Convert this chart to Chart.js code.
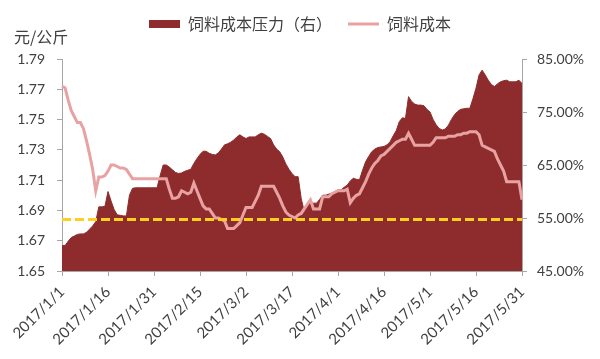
<!DOCTYPE html>
<html>
<head>
<meta charset="utf-8">
<script src="https://cdn.jsdelivr.net/npm/chart.js@4.4.0/dist/chart.umd.min.js"></script>
<style>
  body { margin: 0; background: #fff; }
</style>
</head>
<body>
<canvas id="myChart" width="600" height="359"></canvas>
<script>
// daily x categories, 2017/1/1 .. 2017/5/31
const labels = [];
for (let d = new Date(Date.UTC(2017, 0, 1)); d <= new Date(Date.UTC(2017, 4, 31)); d.setUTCDate(d.getUTCDate() + 1)) {
    labels.push(d.getUTCFullYear() + '/' + (d.getUTCMonth() + 1) + '/' + d.getUTCDate());
}
const tickEvery = 15;

// 饲料成本压力（右）, %
const pressure = [
    49.8, 49.8, 50.6, 51.3, 51.6, 51.9, 52.0, 52.0, 52.3, 52.9,
    53.5, 54.3, 57.1, 57.1, 57.2, 60.0, 58.2, 56.6, 55.6, 55.5,
    55.4, 55.4, 59.3, 60.6, 60.7, 60.7, 60.7, 60.7, 60.7, 60.7,
    60.7, 60.7, 63.0, 65.0, 65.0, 64.6, 64.1, 63.6, 63.4, 63.5,
    63.8, 64.0, 64.2, 65.3, 66.2, 67.0, 67.6, 67.6, 67.2, 67.0,
    66.9, 67.3, 68.0, 68.8, 69.0, 69.3, 69.7, 70.3, 70.7, 70.3,
    70.0, 70.3, 70.3, 70.3, 70.7, 71.0, 70.8, 70.4, 70.0, 68.8,
    68.0, 67.5, 66.5, 65.2, 64.2, 63.4, 62.8, 62.8, 58.7, 56.2,
    57.5, 58.1, 57.8, 57.8, 58.5, 59.3, 59.3, 59.5, 59.7, 60.0,
    60.3, 60.3, 60.8, 61.2, 62.0, 62.5, 62.3, 62.2, 64.0, 65.6,
    66.6, 67.5, 68.0, 68.3, 68.4, 68.5, 68.8, 69.4, 70.5, 71.5,
    73.2, 73.9, 73.8, 77.9, 77.0, 76.5, 76.3, 76.3, 76.2, 75.5,
    75.0, 73.6, 72.6, 71.9, 71.6, 71.8, 72.5, 73.6, 74.5, 75.1,
    75.5, 75.6, 75.7, 75.7, 77.5, 79.5, 82.0, 82.9, 82.0, 81.0,
    80.2, 79.8, 80.3, 80.7, 80.9, 81.0, 80.7, 80.7, 80.7, 81.0,
    80.4
];

// 饲料成本, 元/公斤
const cost = [
    1.772, 1.771, 1.763, 1.756, 1.752, 1.748, 1.748, 1.744, 1.736, 1.727,
    1.717, 1.703, 1.712, 1.712, 1.713, 1.716, 1.720, 1.720, 1.719, 1.718,
    1.718, 1.717, 1.714, 1.711, 1.711, 1.711, 1.711, 1.711, 1.711, 1.711,
    1.711, 1.711, 1.711, 1.711, 1.711, 1.704, 1.698, 1.698, 1.699, 1.703,
    1.702, 1.701, 1.702, 1.708, 1.703, 1.698, 1.693, 1.691, 1.691, 1.688,
    1.685, 1.685, 1.684, 1.683, 1.678, 1.678, 1.678, 1.680, 1.682, 1.687,
    1.692, 1.692, 1.692, 1.696, 1.700, 1.706, 1.706, 1.706, 1.706, 1.706,
    1.702, 1.698, 1.693, 1.689, 1.687, 1.686, 1.685, 1.687, 1.688, 1.691,
    1.694, 1.697, 1.691, 1.691, 1.691, 1.699, 1.699, 1.699, 1.701, 1.702,
    1.703, 1.703, 1.703, 1.704, 1.695, 1.698, 1.700, 1.701, 1.705, 1.709,
    1.714, 1.718, 1.721, 1.723, 1.726, 1.727, 1.729, 1.731, 1.733, 1.735,
    1.736, 1.737, 1.737, 1.741, 1.737, 1.733, 1.733, 1.733, 1.733, 1.733,
    1.733, 1.735, 1.738, 1.738, 1.738, 1.738, 1.739, 1.739, 1.739, 1.740,
    1.740, 1.741, 1.741, 1.742, 1.742, 1.742, 1.740, 1.733, 1.732, 1.731,
    1.730, 1.729, 1.724, 1.720, 1.716, 1.709, 1.709, 1.709, 1.709, 1.709,
    1.697
];

// yellow dashed reference level (left axis)
const refLevel = 1.684;

Chart.defaults.font.family = "Lato, 'Noto Sans CJK SC', sans-serif";
Chart.defaults.color = '#404040';

const unitLabel = {
    id: 'unitLabel',
    afterDraw(chart) {
        const c = chart.ctx;
        c.save();
        c.font = "16px 'Noto Sans CJK SC', sans-serif";
        c.fillStyle = '#404040';
        c.textBaseline = 'middle';
        c.fillText('元/公斤', 14, 37);
        c.restore();
    }
};

// extra room between legend and plot
const legendGap = {
    id: 'legendGap',
    beforeInit(chart) {
        const fit = chart.legend.fit;
        chart.legend.fit = function () {
            fit.call(this);
            this.height += 17;
        };
    }
};

const ctx = document.getElementById('myChart').getContext('2d');
const myChart = new Chart(ctx, {
    type: 'line',
    data: {
        labels: labels,
        datasets: [{
            label: '饲料成本压力（右）',
            data: pressure,
            yAxisID: 'yRight',
            fill: 'start',
            backgroundColor: '#8E2C2D',
            borderColor: '#8E2C2D',
            borderWidth: 1,
            pointRadius: 0,
            pointStyle: 'rect',
            pointBorderWidth: 0,
            order: 3
        }, {
            label: '饲料成本',
            data: cost,
            yAxisID: 'yLeft',
            fill: false,
            borderColor: '#E8A2A2',
            backgroundColor: '#E8A2A2',
            borderWidth: 3,
            pointRadius: 0,
            pointStyle: 'line',
            pointBorderWidth: 3,
            order: 2
        }, {
            label: 'ref',
            data: [{x: labels[0], y: refLevel}, {x: labels[labels.length - 1], y: refLevel}],
            yAxisID: 'yLeft',
            fill: false,
            borderColor: '#FFCF1F',
            borderWidth: 3,
            borderDash: [9, 4],
            pointRadius: 0,
            order: 1
        }]
    },
    options: {
        responsive: false,
        animation: false,
        layout: { padding: { top: 0, left: 0, right: 0, bottom: 0 } },
        plugins: {
            tooltip: { enabled: false },
            legend: {
                labels: {
                    usePointStyle: true,
                    pointStyleWidth: 31,
                    boxHeight: 8,
                    padding: 16,
                    font: { size: 16, family: "'Noto Sans CJK SC', sans-serif" },
                    filter: (item) => item.text !== 'ref',
                    sort: (a, b) => a.datasetIndex - b.datasetIndex
                }
            }
        },
        scales: {
            x: {
                ticks: {
                    autoSkip: false,
                    maxRotation: 45,
                    minRotation: 45,
                    padding: 7,
                    font: { size: 15 },
                    callback: (val, i) => i % tickEvery === 0 ? labels[i] : null
                },
                grid: { drawOnChartArea: false, tickLength: 5, color: '#A6A6A6' },
                border: { color: '#A6A6A6' },
                afterFit: (scale) => { scale.height = 88; }
            },
            yLeft: {
                position: 'left',
                min: 1.65,
                max: 1.79,
                ticks: {
                    stepSize: 0.02,
                    padding: 12,
                    font: { size: 14 },
                    callback: (v) => v.toFixed(2)
                },
                grid: { drawOnChartArea: false, tickLength: 5, color: '#A6A6A6' },
                border: { color: '#A6A6A6' },
                afterFit: (scale) => { scale.width = 62; }
            },
            yRight: {
                position: 'right',
                min: 45,
                max: 85,
                ticks: {
                    stepSize: 10,
                    padding: 10,
                    font: { size: 14 },
                    callback: (v) => v.toFixed(2) + '%'
                },
                grid: { drawOnChartArea: false, tickLength: 5, color: '#A6A6A6' },
                border: { color: '#A6A6A6' },
                afterFit: (scale) => { scale.width = 78; }
            }
        }
    },
    plugins: [unitLabel, legendGap]
});
</script>
</body>
</html>
